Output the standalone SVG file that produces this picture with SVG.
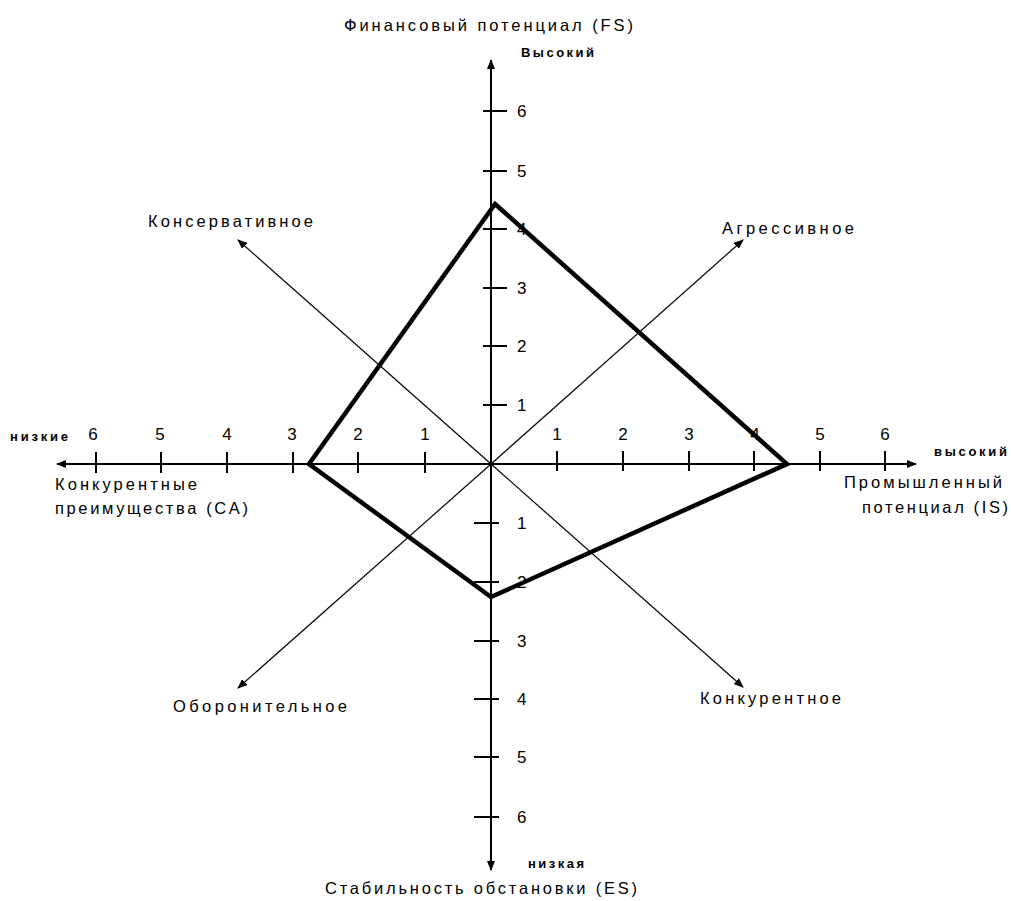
<svg xmlns="http://www.w3.org/2000/svg" width="1011" height="901" viewBox="0 0 1011 901">
<style>
.lbl{font-family:"Liberation Sans",Arial,sans-serif;font-size:16.5px;fill:#000}
.sm{font-family:"Liberation Sans",Arial,sans-serif;font-size:13px;font-weight:bold;fill:#000}
.num{font-family:"Liberation Sans",Arial,sans-serif;font-size:17px;fill:#000}
.ax{stroke:#000;stroke-width:2;fill:none}
.tk{stroke:#000;stroke-width:2}
.dg{stroke:#000;stroke-width:1.2;fill:none}
</style>
<defs>
<marker id="ar" viewBox="0 0 10 8" refX="9" refY="4" markerWidth="10" markerHeight="8" markerUnits="userSpaceOnUse" orient="auto">
<path d="M0,0 L10,4 L0,8 z" fill="#000"/>
</marker>
</defs>
<rect width="1011" height="901" fill="#fff"/>
<g id="connectors">
<line class="ax" x1="491" y1="464" x2="57" y2="464" marker-end="url(#ar)"/>
<line class="ax" x1="491" y1="464" x2="916" y2="464" marker-end="url(#ar)"/>
<line class="ax" x1="491" y1="464" x2="491" y2="60" marker-end="url(#ar)"/>
<line class="ax" x1="491" y1="464" x2="491" y2="870" marker-end="url(#ar)"/>
<line class="dg" x1="491" y1="464" x2="238" y2="240" marker-end="url(#ar)"/>
<line class="dg" x1="491" y1="464" x2="743" y2="240" marker-end="url(#ar)"/>
<line class="dg" x1="491" y1="464" x2="238" y2="688" marker-end="url(#ar)"/>
<line class="dg" x1="491" y1="464" x2="743" y2="687" marker-end="url(#ar)"/>
</g>
<g id="ticks" class="tk">
<line x1="96" y1="452" x2="96" y2="473"/>
<line x1="161" y1="452" x2="161" y2="473"/>
<line x1="227" y1="452" x2="227" y2="473"/>
<line x1="293" y1="452" x2="293" y2="473"/>
<line x1="358" y1="452" x2="358" y2="473"/>
<line x1="425" y1="452" x2="425" y2="473"/>
<line x1="557" y1="451" x2="557" y2="471"/>
<line x1="623" y1="451" x2="623" y2="471"/>
<line x1="689" y1="451" x2="689" y2="471"/>
<line x1="754" y1="451" x2="754" y2="471"/>
<line x1="820" y1="451" x2="820" y2="471"/>
<line x1="885" y1="451" x2="885" y2="471"/>
<line x1="483" y1="405" x2="507" y2="405"/>
<line x1="483" y1="346" x2="507" y2="346"/>
<line x1="483" y1="288" x2="507" y2="288"/>
<line x1="483" y1="229" x2="507" y2="229"/>
<line x1="483" y1="171" x2="507" y2="171"/>
<line x1="483" y1="111" x2="507" y2="111"/>
<line x1="474" y1="523" x2="499" y2="523"/>
<line x1="474" y1="582" x2="499" y2="582"/>
<line x1="474" y1="641" x2="499" y2="641"/>
<line x1="474" y1="699" x2="499" y2="699"/>
<line x1="474" y1="757" x2="499" y2="757"/>
<line x1="474" y1="817" x2="499" y2="817"/>
</g>
<g id="numbers" class="num">
<text x="93" y="440" text-anchor="middle">6</text>
<text x="160" y="440" text-anchor="middle">5</text>
<text x="227" y="440" text-anchor="middle">4</text>
<text x="292" y="440" text-anchor="middle">3</text>
<text x="358" y="440" text-anchor="middle">2</text>
<text x="425" y="440" text-anchor="middle">1</text>
<text x="557" y="440" text-anchor="middle">1</text>
<text x="623" y="440" text-anchor="middle">2</text>
<text x="689" y="440" text-anchor="middle">3</text>
<text x="755" y="440" text-anchor="middle">4</text>
<text x="820" y="440" text-anchor="middle">5</text>
<text x="885" y="440" text-anchor="middle">6</text>
<text x="517" y="411">1</text>
<text x="517" y="352">2</text>
<text x="517" y="294">3</text>
<text x="517" y="235">4</text>
<text x="517" y="177">5</text>
<text x="517" y="117">6</text>
<text x="517" y="529">1</text>
<text x="517" y="588">2</text>
<text x="517" y="647">3</text>
<text x="517" y="705">4</text>
<text x="517" y="763">5</text>
<text x="517" y="823">6</text>
</g>
<g id="polygon">
<polygon points="495,204 787,464 491,597 309,464" fill="none" stroke="#000" stroke-width="4.5" stroke-linejoin="miter"/>
</g>
<g id="labels">
<text class="lbl" x="344" y="31" textLength="289" lengthAdjust="spacing">Финансовый потенциал (FS)</text>
<text class="sm" x="521" y="57" textLength="73" lengthAdjust="spacing">Высокий</text>
<text class="lbl" x="148" y="227" textLength="165" lengthAdjust="spacing">Консервативное</text>
<text class="lbl" x="722" y="234" textLength="132" lengthAdjust="spacing">Агрессивное</text>
<text class="sm" x="10" y="441" textLength="58" lengthAdjust="spacing">низкие</text>
<text class="sm" x="934" y="456" textLength="73" lengthAdjust="spacing">высокий</text>
<text class="lbl" x="844" y="488" textLength="158" lengthAdjust="spacing">Промышленный</text>
<text class="lbl" x="862" y="513" textLength="146" lengthAdjust="spacing">потенциал (IS)</text>
<text class="lbl" x="55" y="490" textLength="142" lengthAdjust="spacing">Конкурентные</text>
<text class="lbl" x="55" y="514" textLength="193" lengthAdjust="spacing">преимущества (CA)</text>
<text class="lbl" x="173" y="712" textLength="174" lengthAdjust="spacing">Оборонительное</text>
<text class="lbl" x="700" y="704" textLength="141" lengthAdjust="spacing">Конкурентное</text>
<text class="sm" x="528" y="868" textLength="56" lengthAdjust="spacing">низкая</text>
<text class="lbl" x="325" y="894" textLength="312" lengthAdjust="spacing">Стабильность обстановки (ES)</text>
</g>
</svg>
